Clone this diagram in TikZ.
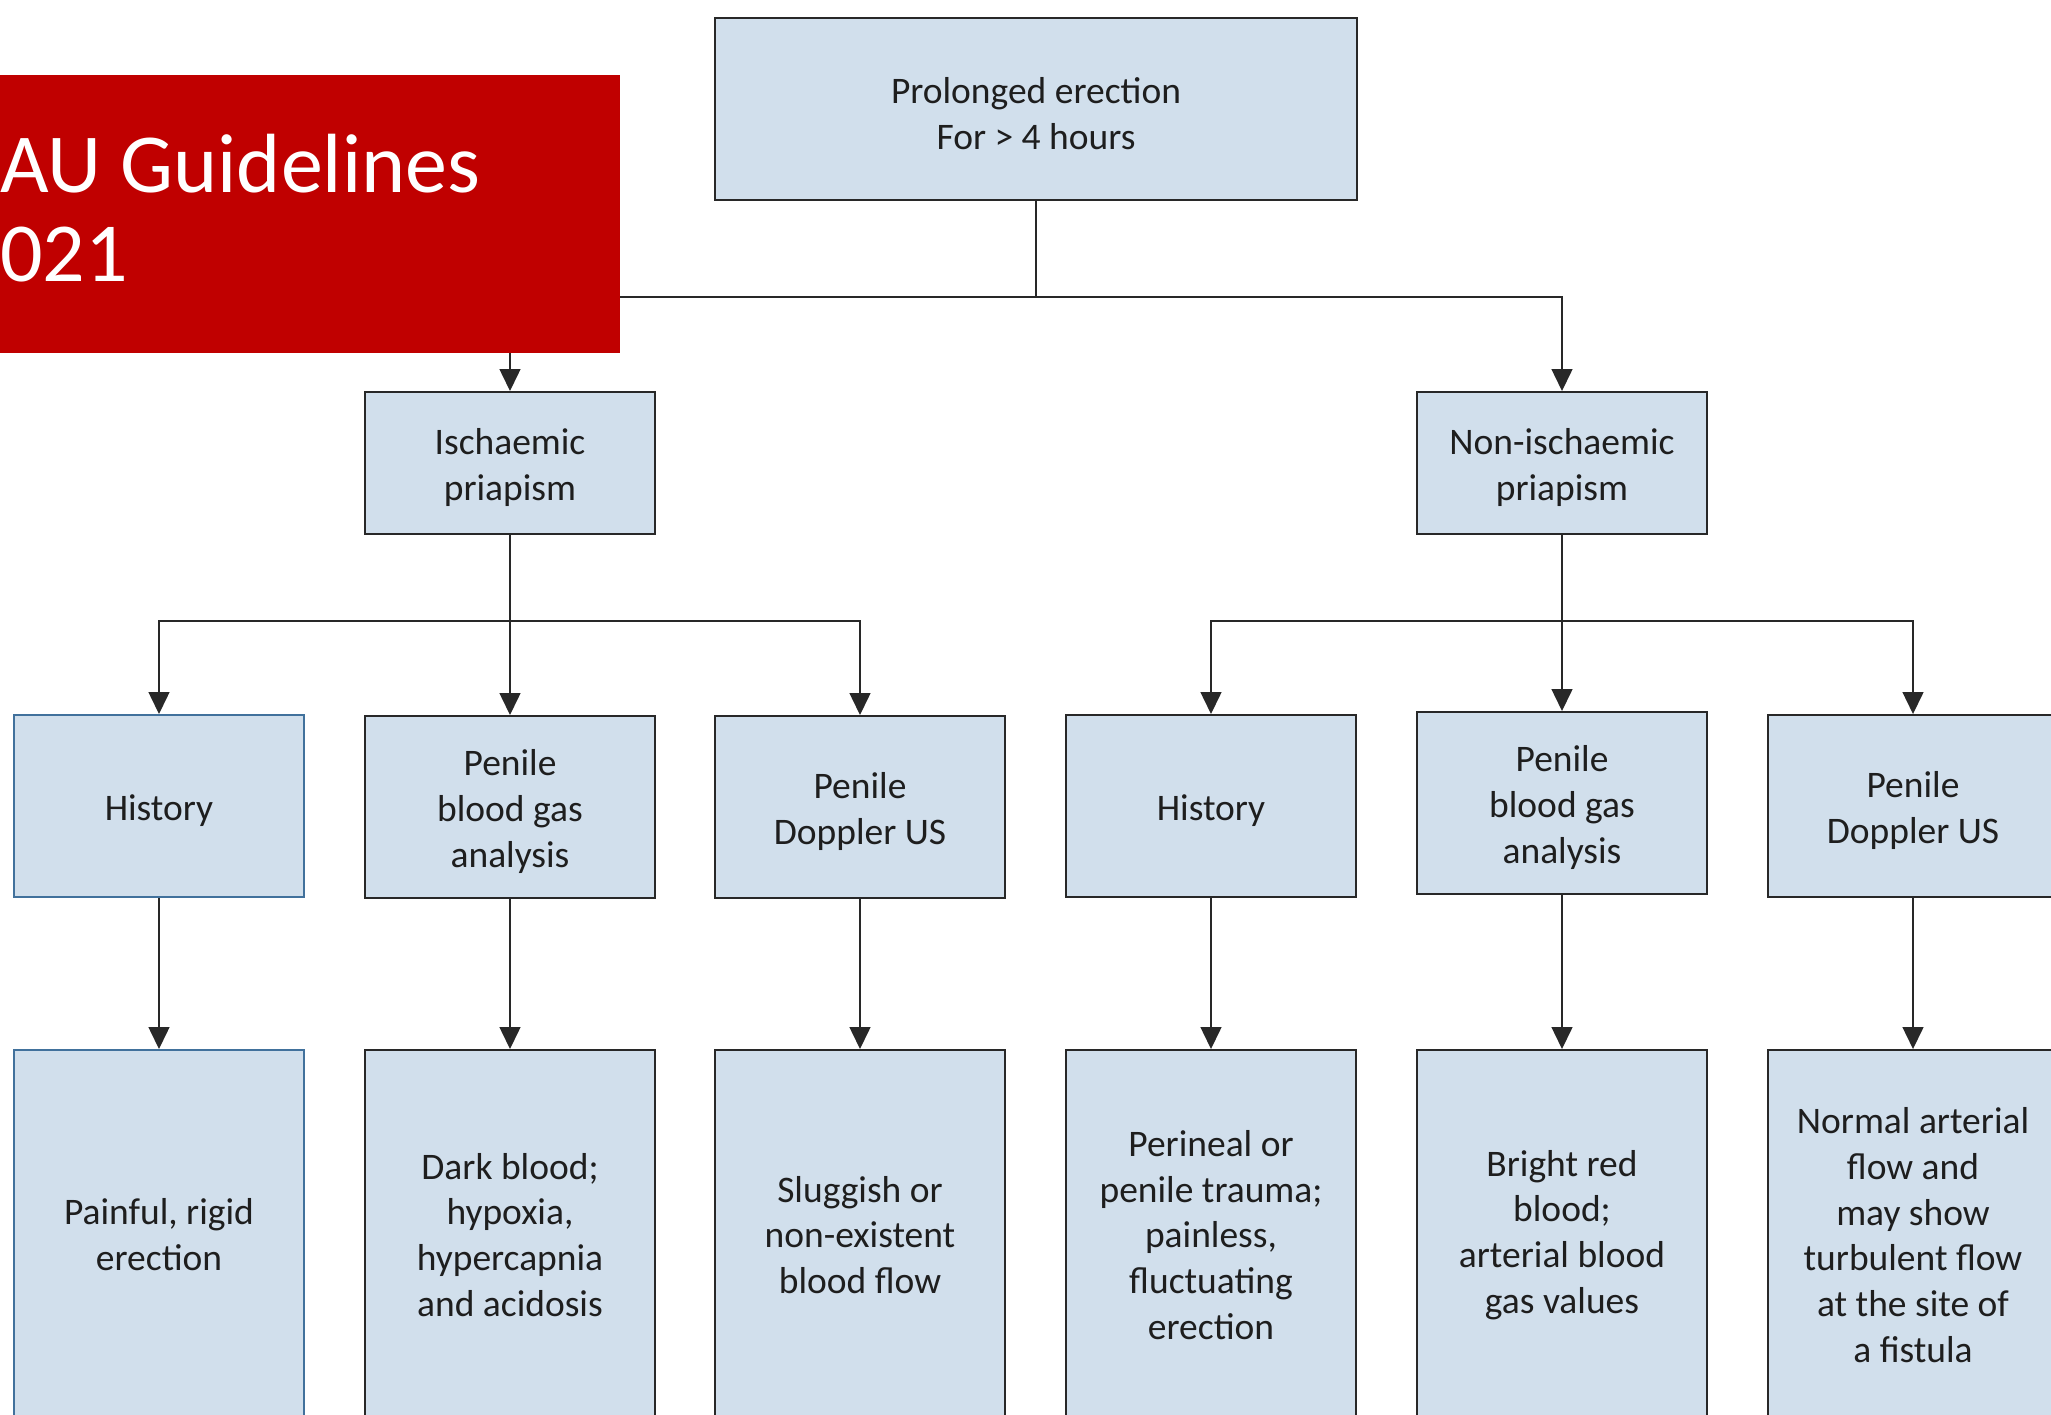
\documentclass[tikz,border=0pt]{standalone}
\usepackage{fontspec}
\setmainfont{Carlito}
\usetikzlibrary{arrows.meta}
\definecolor{boxfill}{RGB}{209,223,236}
\definecolor{boxline}{RGB}{40,40,40}
\definecolor{histline}{RGB}{65,113,156}
\definecolor{eaured}{RGB}{192,0,0}
\definecolor{txt}{RGB}{30,30,30}
\newcommand{\tsh}{\rule{0pt}{17.5pt}}
\tikzset{
  box/.style={draw=boxline, line width=1pt, fill=boxfill, text=txt, align=center,
    minimum width=145pt, inner sep=2pt,
    font=\fontsize{18.75}{22.9}\selectfont},
  hbox/.style={box, draw=histline},
  lvlB/.style={minimum height=71pt},
  lvlC/.style={minimum height=91pt},
  lvlD/.style={minimum height=185pt},
  conn/.style={draw=boxline, line width=0.75pt},
  arr/.style={conn, -{Triangle[length=11pt,width=10.5pt]}},
}
\begin{document}
\begin{tikzpicture}[x=0.5pt,y=-0.5pt]
\path[use as bounding box, clip] (0,0) rectangle (2051,1414);
\fill[white] (0,0) rectangle (2051,1414);

% top
\node[box, minimum width=321pt, minimum height=91pt] (top) at (1036,109) {\tsh Prolonged erection\\For > 4 hours};
% level 2
\node[box, lvlB] (isch) at (510,463) {\tsh Ischaemic\\priapism};
\node[box, lvlB] (nonisch) at (1562,463) {\tsh Non-ischaemic\\priapism};
% level 3
\node[hbox, lvlC] (h1) at (159,806) {\tsh History};
\node[box, lvlC] (g1) at (510,807) {\tsh Penile\\blood gas\\analysis};
\node[box, lvlC] (d1) at (860,807) {\tsh Penile\\Doppler US};
\node[box, lvlC] (h2) at (1211,806) {\tsh History};
\node[box, lvlC] (g2) at (1562,803) {\tsh Penile\\blood gas\\analysis};
\node[box, lvlC] (d2) at (1913,806) {\tsh Penile\\Doppler US};
% level 4
\node[hbox, lvlD] (r1) at (159,1235) {Painful, rigid\\erection};
\node[box, lvlD] (r2) at (510,1235) {Dark blood;\\hypoxia,\\hypercapnia\\and acidosis};
\node[box, lvlD] (r3) at (860,1235) {Sluggish or\\non-existent\\blood flow};
\node[box, lvlD] (r4) at (1211,1235) {Perineal or\\penile trauma;\\painless,\\fluctuating\\erection};
\node[box, lvlD] (r5) at (1562,1235) {Bright red\\blood;\\arterial blood\\gas values};
\node[box, lvlD] (r6) at (1913,1235) {Normal arterial\\flow and\\may show\\turbulent flow\\at the site of\\a fistula};

% connectors
\coordinate (j0) at (1036,297);
\draw[conn] (top.south) -- (j0);
\draw[arr] (j0) -| (isch.north);
\draw[arr] (j0) -| (nonisch.north);

\coordinate (j1) at (510,621);
\draw[conn] (isch.south) -- (j1);
\draw[arr] (j1) -| (h1.north);
\draw[arr] (j1) -- (g1.north);
\draw[arr] (j1) -| (d1.north);

\coordinate (j2) at (1562,621);
\draw[conn] (nonisch.south) -- (j2);
\draw[arr] (j2) -| (h2.north);
\draw[arr] (j2) -- (g2.north);
\draw[arr] (j2) -| (d2.north);

\foreach \a/\b in {h1/r1,g1/r2,d1/r3,h2/r4,g2/r5,d2/r6}{
  \draw[arr] (\a.south) -- (\b.north);
}

% red title block
\fill[eaured] (0,75) rectangle (620,353);
\node[anchor=base west, inner sep=0pt, text=white, align=left,
  font=\fontsize{42}{44.5}\selectfont] (eau) at (0,281) {AU Guidelines\\021};
\end{tikzpicture}
\end{document}
